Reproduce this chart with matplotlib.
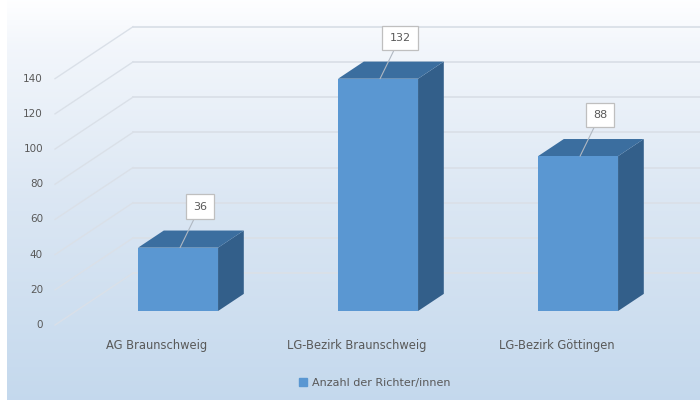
import numpy as np
import matplotlib
matplotlib.use("Agg")
import matplotlib.pyplot as plt
from matplotlib.patches import Polygon, Patch
from matplotlib.colors import LinearSegmentedColormap

# Chart data
categories = ["AG Braunschweig", "LG-Bezirk Braunschweig", "LG-Bezirk Göttingen"]
values = [36, 132, 88]
y_ticks = [0, 20, 40, 60, 80, 100, 120, 140]
series_name = "Anzahl der Richter/innen"

# Colours
FRONT = "#5a97d2"
TOP = "#3b6e9f"
SIDE = "#335f8a"
TEXT = "#595959"
GRID = (0.855, 0.88, 0.91)

# Pseudo-3D geometry (category units on x, value units on y)
DEPTH_X = 0.39      # full depth of the box, x direction
DEPTH_Y = 29.5      # full depth of the box, y direction
BAR_D0, BAR_D1 = 0.27, 0.60   # bars occupy this slice of the depth
BAR_W = 0.40
WALL_LEFT = -0.51

plt.rcParams["font.family"] = ["DejaVu Sans"]

fig = plt.figure(figsize=(7, 4), dpi=100)
fig.patch.set_facecolor("white")

# Background gradient
bg = fig.add_axes([7 / 700, 0, 693 / 700, 1])
cmap = LinearSegmentedColormap.from_list(
    "bg",
    [(0.0, (0.995, 0.997, 1.0)), (0.12, (0.95, 0.965, 0.985)),
     (0.5, (0.86, 0.905, 0.955)), (1.0, (0.77, 0.85, 0.93))])
grad = np.linspace(0, 1, 256).reshape(-1, 1)
bg.imshow(grad, aspect="auto", cmap=cmap, extent=[0, 1, 1, 0])
bg.set_axis_off()

ax = fig.add_axes([0, 0, 1, 1])
ax.patch.set_alpha(0)
ax.set_xlim(-0.785, 2.715)
ax.set_ylim(-42.6, 184.7)
ax.set_axis_off()

# Back wall gridlines and side wall diagonals
for v in y_ticks:
    bx = WALL_LEFT + DEPTH_X
    ax.plot([bx, 3.0], [v + DEPTH_Y, v + DEPTH_Y], color=GRID, lw=1.3, zorder=1)
    ax.plot([WALL_LEFT, bx], [v, v + DEPTH_Y], color=GRID, lw=1.0, zorder=1)

# Bars: front face, top face and right side face
x = np.arange(len(categories))
dx0, dy0 = BAR_D0 * DEPTH_X, BAR_D0 * DEPTH_Y
ddx, ddy = (BAR_D1 - BAR_D0) * DEPTH_X, (BAR_D1 - BAR_D0) * DEPTH_Y
for xi, v in zip(x, values):
    xl = xi + dx0 - BAR_W / 2
    xr = xl + BAR_W
    top = v + dy0
    ax.add_patch(Polygon([(xr, dy0), (xr + ddx, dy0 + ddy),
                          (xr + ddx, top + ddy), (xr, top)],
                         closed=True, fc=SIDE, ec="none", zorder=3))
    ax.add_patch(Polygon([(xl, top), (xr, top), (xr + ddx, top + ddy),
                          (xl + ddx, top + ddy)],
                         closed=True, fc=TOP, ec="none", zorder=3))
ax.bar(x + dx0, values, width=BAR_W, bottom=dy0, color=FRONT, zorder=4)

# Value labels with leader lines
for xi, v in zip(x, values):
    ax.annotate(str(v), xy=(xi + dx0 + 0.01, v + dy0),
                xytext=(20, 41), textcoords="offset pixels",
                ha="center", va="center", fontsize=8, color=TEXT, zorder=6,
                bbox=dict(boxstyle="square,pad=0.65", fc="white",
                          ec="#bfbfbf", lw=0.9),
                arrowprops=dict(arrowstyle="-", color="#b0b8c2", lw=0.8,
                                shrinkA=0, shrinkB=0))

# Value axis labels on the front edge
for v in y_ticks:
    ax.text(-0.57, v, str(v), ha="right", va="center", fontsize=7.5, color=TEXT)

# Category labels
for xi, name in zip(x, categories):
    ax.text(xi, -11.4, name, ha="center", va="center", fontsize=8.3, color=TEXT)

fig.legend(handles=[Patch(color=FRONT, label=series_name)], loc="center",
           bbox_to_anchor=(375 / 700, 17 / 400), frameon=False, fontsize=8,
           handlelength=0.7, handleheight=0.7, handletextpad=0.5,
           labelcolor=TEXT)

fig.savefig("out.png", dpi=100)
